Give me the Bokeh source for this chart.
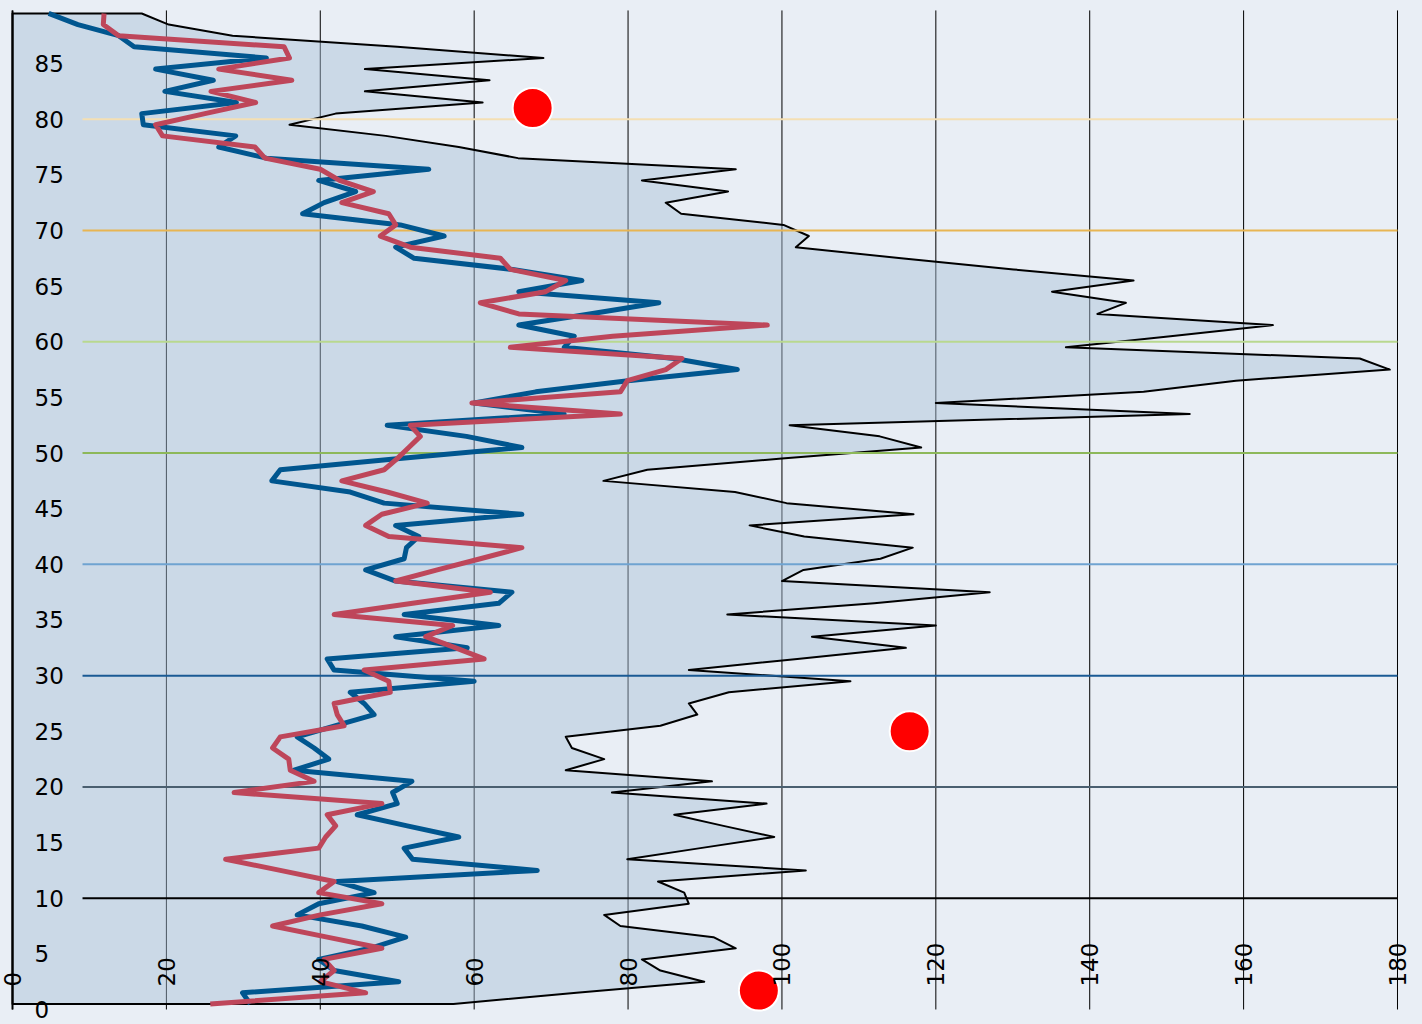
from bokeh.plotting import figure
from bokeh.models import Range1d, LinearAxis, FixedTicker
from bokeh.embed import file_html
from bokeh.resources import INLINE

# ---------------- data ----------------
ages = list(range(90))

total = [57.3, 73.3, 89.9, 84.2, 81.8, 94.0, 91.1, 79.0, 76.9, 87.9,
         87.3, 83.9, 103.1, 79.9, 89.4, 99.0, 92.4, 86.0, 98.0, 77.9,
         90.9, 71.9, 76.9, 72.7, 71.9, 84.2, 89.0, 87.9, 93.1, 108.9,
         87.9, 102.0, 116.1, 103.9, 120.0, 92.9, 112.0, 127.0, 100.0, 102.8,
         112.8, 117.0, 102.9, 95.8, 117.1, 100.6, 93.9, 76.8, 82.5, 100.0,
         118.1, 112.7, 101.0, 153.0, 120.0, 147.0, 159.0, 179.0, 175.1, 136.9,
         150.5, 163.8, 141.0, 144.7, 135.1, 145.7, 130.1, 115.5, 101.8, 103.5,
         100.2, 86.9, 84.9, 93.0, 81.8, 94.0, 65.7, 58.0, 48.5, 36.0,
         42.0, 61.1, 45.8, 62.0, 45.8, 69.0, 50.0, 28.6, 20.3, 16.8]

male = [30.9, 29.9, 50.2, 41.8, 39.8, 46.5, 51.1, 45.4, 37.0, 39.8,
        47.0, 42.2, 68.2, 52.0, 50.9, 58.0, 51.3, 44.8, 50.0, 49.4,
        51.9, 36.6, 41.1, 39.2, 37.0, 42.0, 47.0, 45.7, 43.9, 60.0,
        41.8, 40.9, 59.1, 49.8, 63.2, 50.9, 63.2, 64.9, 49.8, 45.9,
        50.9, 51.2, 52.8, 49.8, 66.2, 48.3, 43.9, 33.7, 34.8, 50.3,
        66.2, 59.0, 48.7, 71.7, 60.0, 68.0, 80.0, 94.2, 86.0, 71.7,
        73.0, 65.8, 75.0, 84.0, 65.8, 74.0, 65.0, 52.2, 49.8, 56.1,
        50.4, 37.7, 40.5, 44.6, 39.8, 54.1, 33.0, 26.8, 29.0, 17.0,
        16.8, 29.1, 19.8, 26.1, 18.6, 33.0, 15.8, 13.8, 8.5, 4.7]

female = [25.7, 45.9, 40.0, 41.8, 40.5, 48.0, 40.9, 33.8, 40.0, 48.0,
          39.8, 41.8, 34.8, 27.7, 39.8, 40.7, 42.0, 40.9, 48.0, 28.8,
          39.2, 36.1, 35.9, 33.8, 34.8, 43.1, 42.2, 41.8, 49.1, 48.9,
          45.7, 61.3, 57.6, 53.7, 57.2, 41.8, 52.0, 62.1, 49.8, 55.2,
          60.8, 66.2, 48.9, 45.9, 48.0, 53.9, 48.7, 42.8, 48.3, 50.0,
          51.5, 53.0, 51.7, 79.0, 59.7, 79.0, 79.9, 84.9, 87.0, 64.7,
          78.0, 98.1, 65.8, 60.8, 69.3, 71.9, 64.7, 63.4, 51.7, 47.8,
          49.8, 48.9, 42.8, 46.9, 42.5, 40.0, 32.8, 31.5, 19.5, 18.6,
          25.0, 31.6, 25.8, 36.3, 26.8, 36.0, 35.3, 13.8, 11.8, 11.9]

band_levels = [10, 20, 30, 40, 50, 60, 70, 80]
band_colors = ["#000000", "#4a5f70", "#1a5a94", "#6fa3d1",
               "#8db85a", "#b9d88f", "#e8b553", "#f4dfb3"]

x_ticks = [0, 20, 40, 60, 80, 100, 120, 140, 160, 180]
y_ticks = [0, 5, 10, 15, 20, 25, 30, 35, 40, 45, 50, 55, 60, 65, 70, 75, 80, 85]

dot_x = [67.6, 116.6, 97.0]
dot_y = [81.0, 25.0, 1.7]

# ---------------- style ----------------
BG = "#e9eef5"
FILL = "#a6bfd8"
BLUE = "#00568f"
RED = "#be465a"
FONT = "DejaVu Sans"
BAND_X0 = 9.1
X_END = 180
Y_TOP = 89.77      # top of the drawn grid / axis
VIEW_X = (-1.56, 183.25)
VIEW_Y = (-1.348, 90.664)

y_mid = [a + 0.5 for a in ages]

p = figure(width=1422, height=1024,
           x_range=Range1d(*VIEW_X), y_range=Range1d(*VIEW_Y),
           output_backend="svg", toolbar_location=None,
           x_axis_location=None, y_axis_location=None,
           min_border=0,
           background_fill_color=BG, border_fill_color=BG,
           outline_line_color=None)
p.grid.visible = False

# vertical grid lines (drawn under the translucent area)
p.segment(x0=x_ticks, y0=[0] * len(x_ticks), x1=x_ticks, y1=[Y_TOP] * len(x_ticks),
          line_color="black", line_width=1)

# total area
px = [0] + total + [0]
py = [y_mid[0]] + y_mid + [y_mid[-1]]
p.patch(px, py, fill_color=FILL, fill_alpha=0.45,
        line_color="black", line_width=2, line_join="round")

# horizontal bands
p.segment(x0=[BAND_X0] * len(band_levels), y0=band_levels,
          x1=[X_END] * len(band_levels), y1=band_levels,
          line_color=band_colors, line_width=2)

p.line(male, y_mid, line_color=BLUE, line_width=5, line_join="round")
p.line(female, y_mid, line_color=RED, line_width=5, line_join="round")

p.scatter(dot_x, dot_y, size=40, fill_color="#ff0000",
          line_color="white", line_width=2)

yaxis = LinearAxis(fixed_location=0, bounds=(0, Y_TOP),
                   ticker=FixedTicker(ticks=y_ticks),
                   axis_line_color="black", axis_line_width=2,
                   major_tick_in=0, major_tick_out=0,
                   minor_tick_line_color=None,
                   major_label_standoff=22,
                   major_label_text_font=FONT,
                   major_label_text_font_size="23px",
                   major_label_text_color="black")
p.add_layout(yaxis, "right")

xaxis = LinearAxis(fixed_location=0, bounds=(0, X_END),
                   ticker=FixedTicker(ticks=x_ticks),
                   axis_line_color=None,
                   major_tick_in=0, major_tick_out=0,
                   minor_tick_line_color=None,
                   major_label_orientation="vertical",
                   major_label_standoff=23,
                   major_label_text_font=FONT,
                   major_label_text_font_size="23px",
                   major_label_text_color="black")
p.add_layout(xaxis, "above")

html = file_html(p, INLINE)
html = html.replace("<head>", "<head><style>body{background:%s;}</style>" % BG, 1)
open("out.html", "w").write(html)
